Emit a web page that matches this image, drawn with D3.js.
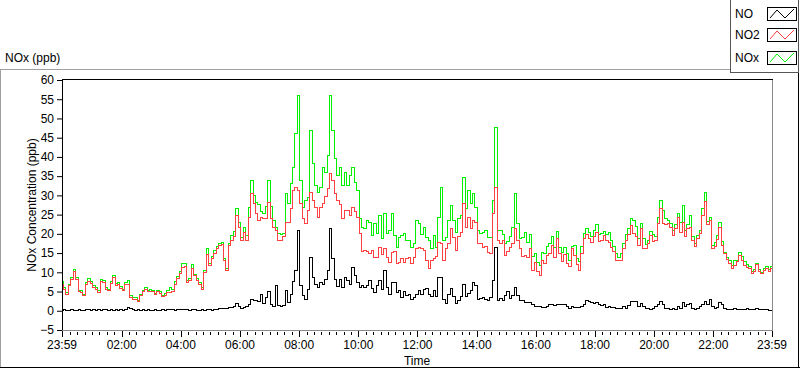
<!DOCTYPE html>
<html><head><meta charset="utf-8">
<script src="https://cdn.jsdelivr.net/npm/d3@7"></script>
<style>
html,body{margin:0;padding:0;background:#fff;}
svg{display:block;font-family:"Liberation Sans",Arial,sans-serif;}
</style></head><body>
<svg id="c" width="800" height="369"></svg>
<script>
// ---- data ----
const startTime = new Date(2020, 0, 1, 23, 59);
const endTime = new Date(2020, 0, 2, 23, 59);
const stepMinutes = 5;

const no2Values = [
6.9,5.6,4.3,6.5,8.2,10.2,8.2,5.0,4.8,3.9, 6.8,7.6,7.1,6.1,5.6,4.8,7.6,7.4,5.6,5.2, 7.1,8.7,6.5,6.9,5.9,5.2,6.8,6.8,3.5,3.0, 3.0,2.4,3.9,4.9,5.6,5.0,5.0,4.9,4.2,5.0, 4.5,3.6,4.1,4.7,4.8,5.0,6.9,8.5,9.7,11.3, 11.6,
7.4,7.8,10.9,9.1,8.0,6.9,5.6,10.0,14.6, 11.7,13.5,14.9,16.1,16.9,17.2,13.0,10.4,16.9,18.2, 19.3,24.7,21.7,18.2,20.4,18.4,24.3,30.4,27.8,25.2, 23.4,24.3,24.0,24.0,28.2,23.9,21.7,20.8,18.4,18.4, 19.3,23.0,23.0,26.5,31.2,32.1,31.3,27.8,23.9,
22.6,26.0,30.8,28.6,26.9,24.3,26.9,27.8,29.7,31.7, 35.6,33.9,30.4,28.6,27.6,23.9,26.0,26.0,24.7,26.9, 25.9,24.3,20.0,15.5,15.6,15.5,14.8,15.8,13.9,13.9, 16.5,14.6,16.1,13.9,12.6,15.2,15.5,12.2,12.6,13.7, 12.6,13.7,13.9,12.2,13.9,16.1,16.5,16.3,
15.6,13.0,11.0,13.0,13.5,14.1,17.8,17.4,13.0,16.1, 17.4,21.3,19.1,15.8,19.3,20.4,27.8,21.7,24.3,21.3, 23.4,23.0,17.5,17.5,16.5,16.7,15.2,14.8,25.2,32.1, 18.2,17.4,18.2,14.3,15.5,16.5,17.4,21.3,18.2,16.1, 14.1,14.3,13.9,16.1,10.4,12.6,10.2,9.1,13.0,
12.2,14.3,14.9,16.9,13.9,18.7,14.8,12.8,14.6,12.3, 11.6,16.1,14.3,12.0,10.6,14.9,18.7,19.8,18.8,17.8, 19.3,20.4,18.1,18.4,19.7,18.2,17.8,16.5,15.5,13.0, 13.0,13.0,16.3,18.2,19.8,22.1,20.1,19.4,16.9,21.3, 16.3,16.1,17.5,19.5,18.1,18.4,22.6,26.5,22.6,
22.4,22.6,21.7,19.5,21.3,24.3,20.4,23.0,19.3,21.3, 21.7,18.4,16.7,18.8,20.1,24.7,28.5,22.4,23.4,16.1, 16.8,18.6,21.7,17.0,14.8,13.4,12.2,10.9,11.7,12.8, 14.3,13.2,11.9,11.3,11.1,9.8,10.2,12.0,10.2,9.7, 10.4,11.1,10.2,11.1
];

const noxValues = [
7.5,6.0,4.7,6.9,8.7,10.8,8.6,5.4,5.2,4.3, 7.3,8.5,7.6,6.5,6.0,5.2,8.1,7.9,6.0,5.6, 7.6,9.3,7.0,7.4,6.3,5.6,7.3,8.0,3.9,3.4, 3.4,2.8,4.3,5.4,6.0,5.4,5.5,5.3,4.6,5.4, 5.0,4.0,4.5,5.2,6.1,5.5,7.6,9.0,10.3,12.2, 12.3,
7.9,8.3,12.0,9.5,8.4,7.3,6.0,10.6,16.1, 12.3,14.2,15.6,16.8,17.4,17.8,13.6,11.0,17.6,19.5, 20.5,26.5,23.0,19.1,21.7,19.5,26.9,33.9,29.9,28.2, 27.6,25.8,25.2,27.0,33.9,27.0,23.4,21.7,20.1,19.8, 20.1,30.4,27.8,33.0,37.3,46.0,56.0,33.9,26.9,
28.6,29.5,46.9,38.2,32.6,30.8,32.1,37.3,36.0,40.4, 56.0,46.9,39.5,35.2,37.3,32.6,36.0,32.6,35.2,37.3, 33.4,31.2,23.9,21.7,21.3,23.4,23.0,19.6,22.6,20.0, 24.7,18.7,25.2,20.0,20.8,25.2,19.5,16.5,19.1,19.5, 20.0,18.2,18.4,16.5,17.4,23.4,22.6,19.9,
21.7,19.1,18.2,16.1,19.5,16.5,24.3,32.1,18.2,19.1, 23.4,27.3,23.4,20.4,23.9,24.7,34.7,26.5,31.2,27.8, 30.4,26.9,20.8,20.1,20.4,20.8,19.1,19.1,28.6,47.7, 20.8,20.8,19.9,17.4,18.1,19.3,21.7,30.4,22.6,18.9, 19.1,20.4,17.8,19.8,14.1,14.9,12.6,11.7,15.2,
14.8,16.7,17.4,19.3,16.5,20.7,16.5,15.2,16.5,14.9, 13.2,16.7,16.9,13.7,12.7,16.7,20.1,21.5,20.3,19.4, 21.0,22.4,19.8,20.1,20.6,19.9,20.4,18.2,16.7,14.8, 13.9,14.8,17.6,19.9,21.4,24.1,23.4,22.0,18.7,22.6, 18.8,17.2,18.4,20.5,19.8,19.3,24.3,28.6,26.0,
24.1,23.6,22.7,20.8,22.4,25.2,23.0,27.3,20.8,22.4, 24.7,19.3,17.5,19.6,21.0,26.5,30.8,23.3,24.3,16.9, 17.7,19.6,23.0,18.1,15.2,13.9,13.0,11.8,13.0,13.2, 15.2,14.1,12.8,12.0,11.6,10.2,10.7,12.4,10.7,9.9, 11.1,11.6,10.8,11.6
];

const noValues = [
0.2,0.3,0.1,0.2,0.3,0.2,0.2,0.3,0.2,0.1, 0.3,0.4,0.2,0.3,0.2,0.3,0.2,0.4,0.3,0.2, 0.3,0.2,0.3,0.2,0.3,0.1,0.4,0.9,0.6,0.3, 0.2,0.3,0.2,0.3,0.2,0.3,0.2,0.2,0.3,0.1, 0.2,0.3,0.2,0.4,0.3,0.3,0.2,0.3,0.4,0.3, 0.3,
0.3,0.2,0.4,0.3,0.2,0.2,0.3,0.2,0.3, 0.3,0.2,0.4,0.3,0.5,0.6,0.5,0.7,0.8,0.9, 1.2,1.8,1.0,0.6,0.8,1.0,1.7,3.0,2.6,2.8, 2.5,4.3,2.0,3.4,5.0,1.6,1.0,6.5,1.3,1.2, 1.5,5.2,2.2,4.3,7.6,10.4,20.8,6.5,4.0,
3.0,5.6,13.9,8.7,6.9,6.1,7.4,6.9,8.2,10.4, 21.3,13.5,8.2,6.3,8.2,6.1,8.7,7.8,6.9,11.3, 9.1,7.4,6.1,6.5,6.1,6.5,7.8,5.9,4.8,6.5, 7.8,5.6,10.4,6.1,4.3,7.4,7.4,4.8,5.2,3.5, 5.0,3.9,4.3,3.0,3.5,4.3,5.4,4.3,
5.6,5.9,4.2,3.6,5.4,3.6,8.7,8.7,3.0,1.9, 4.3,5.9,3.6,1.9,2.8,3.6,6.8,3.6,4.5,5.2, 7.4,6.5,3.0,3.3,3.5,2.9,2.6,3.5,7.8,16.5, 2.8,3.3,2.6,3.9,5.0,3.3,3.9,6.1,3.9,2.8, 2.6,2.2,2.2,2.2,1.6,1.0,1.0,1.0,0.9,
0.9,1.1,1.6,1.6,1.3,1.7,1.6,1.6,1.6,1.0, 0.5,1.0,0.9,0.8,0.9,1.1,1.7,2.8,2.4,2.2, 1.8,2.1,1.7,1.4,1.6,0.9,1.1,0.9,0.8,0.7, 0.6,0.5,1.0,0.7,1.3,2.4,2.3,2.3,1.0,2.0, 1.0,0.5,0.5,0.4,0.5,1.0,1.7,2.3,1.7,
0.5,0.7,0.4,0.5,0.3,1.2,0.7,2.1,1.2,1.7, 2.0,0.7,0.3,0.5,1.0,1.6,2.4,1.7,3.0,1.2, 0.5,0.8,2.2,1.6,0.5,0.3,0.3,0.4,0.5,0.3, 0.3,0.4,0.4,0.5,0.3,0.4,0.3,0.5,0.3,0.3, 0.3,0.3,0.2,0.2
];

const yTickValues = [-5,0,5,10,15,20,25,30,35,40,45,50,55,60];
const xTickLabels = ["23:59","02:00","04:00","06:00","08:00","10:00","12:00","14:00","16:00","18:00","20:00","22:00","23:59"];
const seriesNames = ["NO","NO2","NOx"];
const seriesColors = {"NO":"#000000","NO2":"#ff4040","NOx":"#00f000"};

// ---- build ----
const svg = d3.select("#c");
const L = 62, R = 772, T = 80, B = 330;

const x = d3.scaleTime().domain([startTime, endTime]).range([L, R]);
const y = d3.scaleLinear().domain([-5, 60]).range([B, T]);

function timeAt(i){ return d3.timeMinute.offset(startTime, i*stepMinutes); }
const series = {
  "NOx": noxValues.map((v,i)=>({t:timeAt(i), v})),
  "NO2": no2Values.map((v,i)=>({t:timeAt(i), v})),
  "NO":  noValues.map((v,i)=>({t:timeAt(i), v}))
};

// outer frame
svg.append("line").attr("x1",0).attr("x2",730).attr("y1",69.5).attr("y2",69.5).attr("stroke","#a0a0a0");
svg.append("line").attr("x1",0.5).attr("x2",0.5).attr("y1",69.5).attr("y2",368).attr("stroke","#a0a0a0");
svg.append("line").attr("x1",0).attr("x2",800).attr("y1",367.5).attr("y2",367.5).attr("stroke","#000");
svg.append("line").attr("x1",798.5).attr("x2",798.5).attr("y1",72).attr("y2",368).attr("stroke","#000");

// chart title
svg.append("text").attr("x",5).attr("y",62).attr("font-size",12).attr("fill","#000").text("NOx (ppb)");

// clip
svg.append("clipPath").attr("id","clip").append("rect").attr("x",L).attr("y",T).attr("width",R-L).attr("height",B-T);

// lines
const line = d3.line().curve(d3.curveStep).x(d=>x(d.t)).y(d=>y(d.v));
const g = svg.append("g").attr("clip-path","url(#clip)");
["NOx","NO2","NO"].forEach(n=>{
  g.append("path").datum(series[n]).attr("d",line).attr("fill","none")
   .attr("stroke",seriesColors[n]).attr("stroke-width",1).attr("shape-rendering","crispEdges");
});

// plot border
svg.append("line").attr("x1",L+0.5).attr("x2",L+0.5).attr("y1",T-0.5).attr("y2",B+1).attr("stroke","#000");
svg.append("line").attr("x1",L).attr("x2",R+1).attr("y1",T-0.5).attr("y2",T-0.5).attr("stroke","#000");
svg.append("line").attr("x1",R+0.5).attr("x2",R+0.5).attr("y1",T).attr("y2",B+1).attr("stroke","#8a8a8a");
svg.append("line").attr("x1",L).attr("x2",R+1).attr("y1",B+0.5).attr("y2",B+0.5).attr("stroke","#8a8a8a");

// y axis
const yAxis = d3.axisLeft(y).tickValues(yTickValues).tickSize(5).tickPadding(3).tickFormat(d3.format("d"));
const yg = svg.append("g").attr("transform",`translate(${L},0)`).call(yAxis);
yg.select(".domain").remove();
yg.selectAll("text").attr("font-size",12).attr("font-family","Liberation Sans, Arial, sans-serif").attr("fill","#000");

// x axis
function parseLabel(s,i){
  if(i===0) return startTime;
  if(i===xTickLabels.length-1) return endTime;
  const [h,m] = s.split(":").map(Number);
  return new Date(2020,0,2,h,m);
}
const majorTicks = xTickLabels.map(parseLabel);
const minorTicks = d3.timeMinute.every(15).range(startTime, endTime);
const xg = svg.append("g").attr("transform",`translate(0,${B+1})`);
xg.selectAll(".minor").data(minorTicks).join("line")
  .attr("x1",d=>Math.round(x(d))+0.5).attr("x2",d=>Math.round(x(d))+0.5)
  .attr("y1",1).attr("y2",4).attr("stroke","#000");
xg.selectAll(".major").data(majorTicks).join("line")
  .attr("x1",d=>Math.round(x(d))+0.5).attr("x2",d=>Math.round(x(d))+0.5)
  .attr("y1",0).attr("y2",6).attr("stroke","#000");
xg.selectAll(".lbl").data(majorTicks).join("text")
  .attr("x",d=>x(d)).attr("y",18).attr("text-anchor","middle").attr("font-size",12).attr("fill","#000")
  .text((d,i)=>xTickLabels[i]);

// axis titles
svg.append("text").attr("x",(L+R)/2).attr("y",365).attr("text-anchor","middle").attr("font-size",12).attr("fill","#000").text("Time");
svg.append("text").attr("transform",`translate(36,${(T+B)/2}) rotate(-90)`).attr("text-anchor","middle")
  .attr("font-size",12).attr("fill","#000").text("NOx Concentration (ppb)");

// legend
svg.append("rect").attr("x",730.5).attr("y",-1).attr("width",68).attr("height",73.5).attr("fill","#fff").attr("stroke","#555");
const legY = [7, 28, 51];
seriesNames.forEach((n,i)=>{
  const sy = legY[i];
  svg.append("text").attr("x",735).attr("y",sy+11).attr("font-size",12).attr("fill","#000").text(n);
  svg.append("rect").attr("x",767.5).attr("y",sy+0.5).attr("width",29).attr("height",13).attr("fill","#fff").attr("stroke","#000");
  const pts = [[770,sy+11],[777,sy+3],[785,sy+11],[794,sy+2]];
  svg.append("path").attr("d",d3.line()(pts)).attr("fill","none").attr("stroke",seriesColors[n]).attr("stroke-width",1);
});
</script>
</body></html>
